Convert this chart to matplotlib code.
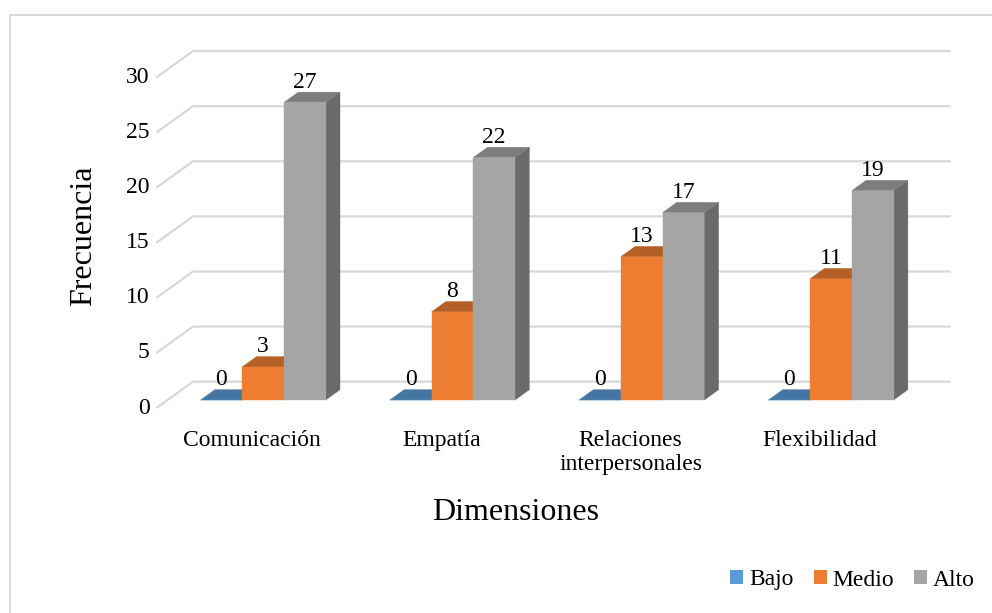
import matplotlib.pyplot as plt
from matplotlib.patches import Polygon, Patch, Rectangle
from matplotlib.colors import to_rgb

plt.rcParams['font.family'] = ['Liberation Serif', 'DejaVu Serif']

# Datos
categorias = ['Comunicación', 'Empatía', 'Relaciones\ninterpersonales', 'Flexibilidad']
series = ['Bajo', 'Medio', 'Alto']
bajo = [0, 0, 0, 0]
medio = [3, 8, 13, 11]
alto = [27, 22, 17, 19]
ticks_y = [0, 5, 10, 15, 20, 25, 30]

colores = ['#5B9BD5', '#ED7D31', '#A5A5A5']
grid_color = '#D9D9D9'


def sombra(color, f):
    r, g, b = to_rgb(color)
    return (r * f, g * f, b * f)


# proyeccion oblicua: la profundidad z (0..1) desplaza a la derecha y hacia arriba
DX, DY = 0.1933, 2.39
Z0, Z1 = 0.304, 0.695
ANCHO = 0.2203
X_IZQ, X_DER = -0.505, 3.691


def p(x, y, z):
    return (x + z * DX, y + z * DY)


fig = plt.figure(figsize=(9.92, 6.13), dpi=100)
ax = fig.add_axes([0, 0, 1, 1])
ax.set_xlim(-252 / 189.3, (992 - 252) / 189.3)
ax.set_ylim((408 - 613) / 11.02, 408 / 11.02)
ax.axis('off')

# rejilla: pared del fondo + diagonales del piso
for v in ticks_y:
    ax.plot([X_IZQ, X_IZQ + DX, X_DER], [v, v + DY, v + DY],
            color=grid_color, lw=1.6, zorder=1, solid_capstyle='butt')
    ax.annotate(str(v), xy=(X_IZQ, v), xytext=(-5, 0), textcoords='offset points',
                ha='right', va='center', fontsize=17)

# barras 3D
valores = [bajo, medio, alto]
for i in range(len(categorias)):
    for j, serie in enumerate(valores):
        v = serie[i]
        xl = i - 1.5 * ANCHO + j * ANCHO
        xr = xl + ANCHO
        c = colores[j]
        lado = [p(xr, 0, Z0), p(xr, 0, Z1), p(xr, v, Z1), p(xr, v, Z0)]
        tapa = [p(xl, v, Z0), p(xr, v, Z0), p(xr, v, Z1), p(xl, v, Z1)]
        frente = [p(xl, 0, Z0), p(xr, 0, Z0), p(xr, v, Z0), p(xl, v, Z0)]
        for pts, f in [(lado, 0.64), (tapa, 0.76), (frente, 1.0)]:
            col = sombra(c, f)
            ax.add_patch(Polygon(pts, closed=True, facecolor=col, edgecolor=col,
                                 lw=0.3, zorder=2))
        xc, yc = p((xl + xr) / 2, v, Z0)
        ax.annotate(str(v), xy=(xc, yc), xytext=(0, 10.5), textcoords='offset points',
                    ha='center', va='baseline', fontsize=17, zorder=3)

    ax.annotate(categorias[i], xy=(i, 0), xytext=(0, -16), textcoords='offset points',
                ha='center', va='top', fontsize=17, linespacing=1.2)

# titulos de ejes
ax.text((84 - 252) / 189.3, (408 - 236) / 11.02, 'Frecuencia', rotation=90,
        ha='center', va='center', fontsize=23)
ax.text((516 - 252) / 189.3, (408 - 520) / 11.02, 'Dimensiones',
        ha='center', va='baseline', fontsize=23)

handles = [Patch(facecolor=c) for c in colores]
fig.legend(handles, series, loc='center right', bbox_to_anchor=(975 / 992, 1 - 580 / 613),
           ncol=3, frameon=False, fontsize=17, handlelength=0.55, handleheight=0.55,
           handletextpad=0.25, columnspacing=0.85, borderpad=0, borderaxespad=0)

# marco exterior
fig.add_artist(Rectangle((10 / 992, -0.5), 2, 1.5 - 14.5 / 613, transform=fig.transFigure,
                         fill=False, edgecolor=grid_color, lw=1.5))

plt.savefig('out.png', dpi=100)
